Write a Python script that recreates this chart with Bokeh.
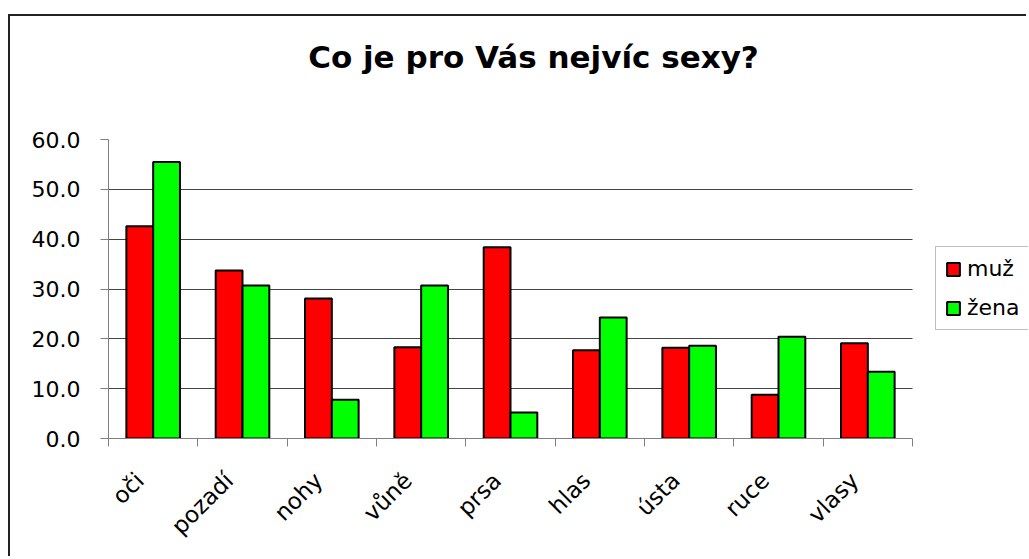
from bokeh.plotting import figure
from bokeh.models import (ColumnDataSource, FixedTicker, Legend, LegendItem, Label,
                          NumeralTickFormatter, BoxAnnotation)
from bokeh.embed import file_html
from bokeh.resources import INLINE
from math import pi

categories = ["oči", "pozadí", "nohy", "vůně", "prsa", "hlas", "ústa", "ruce", "vlasy"]
muz = [42.6, 33.7, 28.1, 18.3, 38.4, 17.7, 18.2, 8.8, 19.1]
zena = [55.5, 30.7, 7.8, 30.7, 5.2, 24.3, 18.6, 20.4, 13.4]
y_ticks = [0, 10, 20, 30, 40, 50, 60]
grid_ticks = [10, 20, 30, 40, 50]

n = len(categories)
centers = [i + 0.5 for i in range(n)]
src_m = ColumnDataSource(dict(x=[c - 0.15 for c in centers], top=muz))
src_z = ColumnDataSource(dict(x=[c + 0.15 for c in centers], top=zena))

FONT = "DejaVu Sans"

# canvas layout (pixels)
W, H = 1018, 542
LEFT, BOTTOM = 98, 120
PLOT_W = 804          # width of the category area
PLOT_TOP = 123        # canvas y of value 60
frame_w = W - LEFT
frame_h = H - BOTTOM
y_max = max(y_ticks)
x_end = n * frame_w / PLOT_W
y_end = y_max * frame_h / (frame_h - PLOT_TOP)

p = figure(width=W, height=H, x_range=(0, x_end), y_range=(0, y_end),
           output_backend="svg", toolbar_location=None,
           min_border_left=LEFT, min_border_right=0, min_border_top=0, min_border_bottom=BOTTOM)
p.styles = {"border-left": "2px solid #222222", "border-top": "2px solid #222222",
            "margin-top": "14px", "margin-left": "8px"}
p.outline_line_color = None
p.background_fill_color = "white"
p.border_fill_color = "white"

r_m = p.vbar(x="x", top="top", width=0.3, bottom=0, source=src_m,
             fill_color="#FF0000", line_color="black", line_width=2)
r_z = p.vbar(x="x", top="top", width=0.3, bottom=0, source=src_z,
             fill_color="#00FF00", line_color="black", line_width=2)

# x axis: labels slightly left of the category centre, ticks on category boundaries
label_pos = [c - 0.15 for c in centers]
p.xaxis.ticker = FixedTicker(ticks=label_pos, minor_ticks=list(range(n + 1)))
p.xaxis.bounds = (0, n)
p.xaxis.major_label_overrides = {c: lab for c, lab in zip(label_pos, categories)}
p.xaxis.major_tick_line_color = None
p.xaxis.minor_tick_line_color = "#808080"
p.xaxis.minor_tick_in = 0
p.xaxis.minor_tick_out = 8
p.xaxis.axis_line_color = "#808080"
p.xaxis.major_label_orientation = pi / 4
p.xaxis.major_label_text_font = FONT
p.xaxis.major_label_text_font_size = "23px"
p.xaxis.major_label_text_color = "black"
p.xaxis.major_label_standoff = 30
p.xgrid.visible = False

# y axis
p.yaxis.ticker = FixedTicker(ticks=y_ticks)
p.yaxis.bounds = (0, y_max)
p.yaxis.formatter = NumeralTickFormatter(format="0.0")
p.yaxis.major_tick_line_color = "#808080"
p.yaxis.major_tick_in = 0
p.yaxis.major_tick_out = 8
p.yaxis.minor_tick_line_color = None
p.yaxis.axis_line_color = "#808080"
p.yaxis.major_label_text_font = FONT
p.yaxis.major_label_text_font_size = "22px"
p.yaxis.major_label_text_color = "black"
p.yaxis.major_label_standoff = 20
p.ygrid.ticker = FixedTicker(ticks=grid_ticks)
p.ygrid.grid_line_color = "#444444"
p.ygrid.grid_line_width = 1

# blank out gridlines right of the category area
p.add_layout(BoxAnnotation(left=n, fill_color="white", fill_alpha=1, line_color=None))

title = Label(x=425, y=382, x_units="screen", y_units="screen",
              text="Co je pro Vás nejvíc sexy?", text_align="center", text_baseline="alphabetic",
              text_font=FONT, text_font_size="31px", text_font_style="bold", text_color="black")
p.add_layout(title)

legend = Legend(items=[LegendItem(label="muž", renderers=[r_m]),
                       LegendItem(label="žena", renderers=[r_z])],
                location=(827, 108), orientation="vertical",
                label_text_font=FONT, label_text_font_size="22px", label_text_color="black",
                glyph_width=16, glyph_height=16, label_height=20, label_standoff=6,
                spacing=14, padding=9, margin=0,
                border_line_color="#808080", border_line_width=1,
                background_fill_color="white", background_fill_alpha=1)
p.add_layout(legend, "center")

open("out.html", "w").write(file_html(p, INLINE))
